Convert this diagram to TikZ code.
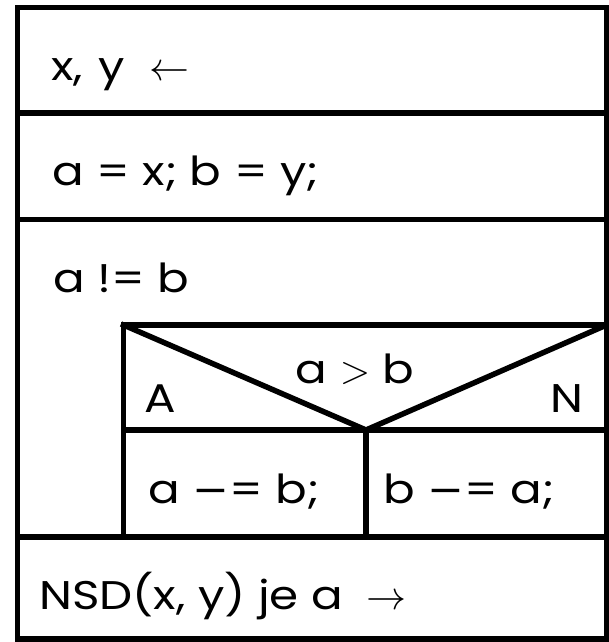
\RequirePackage{fix-cm}
\documentclass[tikz,border=0pt]{standalone}
\usepackage{fontspec}
\setmainfont[FakeStretch=1.17]{Poppins}
\newfontfamily\symf[FakeStretch=1.1]{DejaVu Sans}
\begin{document}
\begin{tikzpicture}[x=1pt,y=-1pt,
  frame/.style={line width=5.5pt, line cap=rect},
  txt/.style={inner sep=0pt, anchor=base west, font=\fontsize{40}{48}\selectfont},
  ctxt/.style={inner sep=0pt, anchor=base, font=\fontsize{40}{48}\selectfont}]
\useasboundingbox (0,0) rectangle (609,642);
\coordinate (tl) at (17.5,7.5);
\coordinate (tr) at (606.5,7.5);
\coordinate (bl) at (17.5,639);
\coordinate (br) at (606.5,639);
\coordinate (s1l) at (17.5,113);
\coordinate (s1r) at (606.5,113);
\coordinate (s2l) at (17.5,219.5);
\coordinate (s2r) at (606.5,219.5);
\coordinate (s3l) at (17.5,537);
\coordinate (s3r) at (606.5,537);
\coordinate (itl) at (123.5,325);
\coordinate (itr) at (606.5,325);
\coordinate (ibl) at (123.5,537);
\coordinate (v) at (366,430);
\coordinate (vl) at (123.5,430);
\coordinate (vr) at (606.5,430);
\coordinate (vb) at (366,537);
% outer frame and separators
\draw[frame] (tl) rectangle (br);
\draw[frame] (s1l) -- (s1r);
\draw[frame] (s2l) -- (s2r);
\draw[frame] (s3l) -- (s3r);
% inner if-block
\draw[frame] (ibl) -- (itl) -- (itr);
\draw[frame] (itl) -- (v) -- (itr);
\draw[frame] (vl) -- (vr);
\draw[frame] (v) -- (vb);
% texts
\node[txt] (t1) at (51,80) {x,\hspace{0.4em}y\hspace{0.6em}$\leftarrow$};
\node[txt] (t2) at (52,185) {a = x; b = y;};
\node[txt] (t3) at (53,292) {a != b};
\node[ctxt] (t4) at (355,383) {a $>$ b};
\node[txt] (t5) at (144,412) {A};
\node[txt, anchor=base east] (t6) at (584,412) {N};
\node[txt] (t7) at (148,503) {a {\symf −}= b;};
\node[txt] (t8) at (383,503) {b {\symf −}= a;};
\node[txt] (t9) at (39,609) {NSD(x, y) je a\hspace{0.6em}$\rightarrow$};
\end{tikzpicture}
\end{document}
